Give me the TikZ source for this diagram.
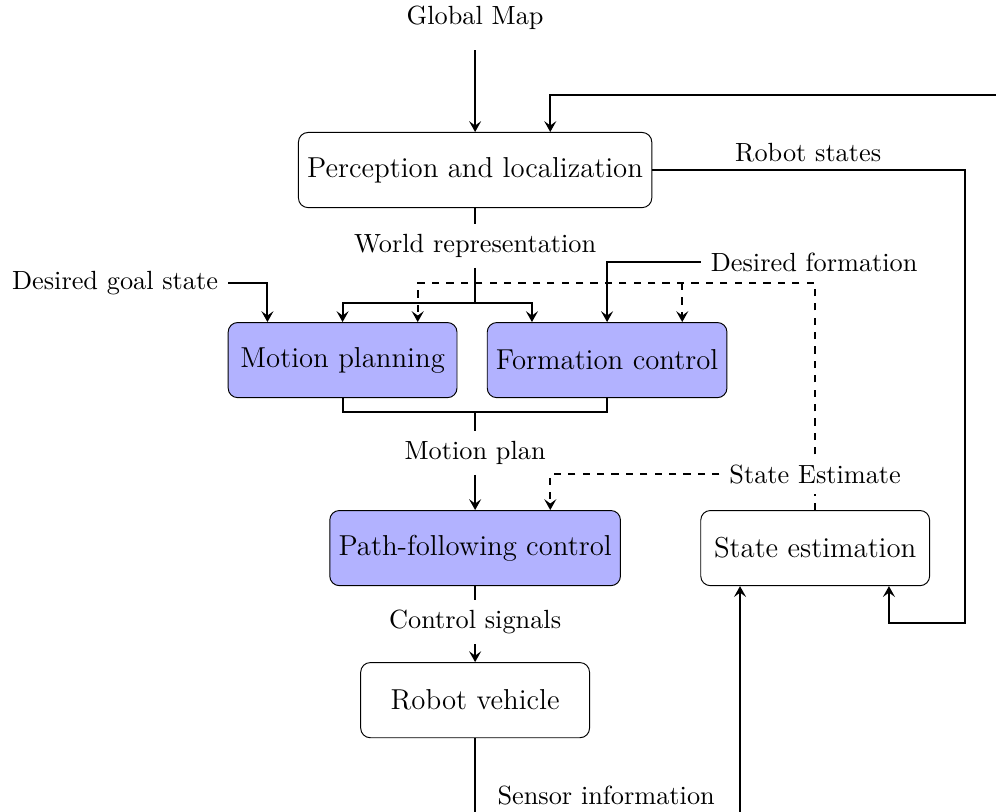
\documentclass[tikz,border=0pt,11pt]{standalone}
\usetikzlibrary{arrows.meta}
\begin{document}
\begin{tikzpicture}
[
>={Stealth[length=4.5pt, width=5pt, inset=1.8pt]},
block/.style={rectangle, draw=black, rounded corners, minimum width=3.35cm, minimum height=1.1cm, font=\large},
ctrlblock/.style={block, fill=blue!30},
lbl/.style={inner sep=4pt},
flow/.style={thick},
flowarr/.style={thick, ->},
estarr/.style={thick, dashed, ->}
]
\clip (0,0) rectangle (14.58,-11.874);
%Nodes
\node[block] at(6.955,-2.489)		(perc) {Perception and localization};
\node[ctrlblock] at(5.015,-5.271)	(mplan) {Motion planning};
\node[ctrlblock] at(8.887,-5.271)	(fctrl) {Formation control};
\node[ctrlblock] at(6.955,-8.023)	(pfc) {Path-following control};
\node[block] at(11.933,-8.023)		(sest) {State estimation};
\node[block] at(6.955,-10.249)		(rv) {Robot vehicle};
%Labels
\node[lbl]		(gm) at(6.955,-0.264) {Global Map};
\node[lbl]		(rs) at(11.83,-2.23) {Robot states};
\node[lbl]		(wr) at(6.955,-3.602) {World representation};
\node[lbl]		(dg) at(1.684,-4.143) {Desired goal state};
\node[lbl]		(df) at(11.918,-3.836) {Desired formation};
\node[lbl]		(mp) at(6.955,-6.633) {Motion plan};
\node[lbl]		(se) at(11.933,-6.94) {State Estimate};
\node[lbl]		(cs) at(6.955,-9.107) {Control signals};
\node[lbl]		(si) at(8.873,-11.64) {Sensor information};
%Corner points
\coordinate		(gmt) at(6.955,-0.732);
\coordinate		(tr) at(14.8,-1.391);
\coordinate		(rsc) at(14.13,-9.12);
\coordinate		(wj) at(6.955,-4.436);
\coordinate		(dj) at(11.933,-4.143);
\coordinate		(mj) at(6.955,-6.032);
\coordinate		(sb) at(6.955,-11.95);
%Connectors
\draw[flowarr] (gmt) -- (perc.north);
\draw[flowarr] (tr) -| ([xshift=1.1cm]perc.north);
\draw[flowarr] (perc.east) -| (rsc) -| ([xshift=1.08cm]sest.south);
\draw[flow] (perc.south) -- (wr.north);
\draw[flow] (wr.south) -- (wj);
\draw[flowarr] (wj) -| (mplan.north);
\draw[flowarr] (wj) -| ([xshift=-1.1cm]fctrl.north);
\draw[flowarr] (dg.east) -| ([xshift=-1.1cm]mplan.north);
\draw[flowarr] (df.west) -| (fctrl.north);
\draw[estarr] (se.north) -- (dj) -| ([xshift=1.1cm]mplan.north);
\draw[estarr] ([xshift=1.1cm]fctrl.north |- dj) -- ([xshift=1.1cm]fctrl.north);
\draw[thick, dashed] (sest.north) -- (se.south);
\draw[estarr] (se.west) -| ([xshift=1.1cm]pfc.north);
\draw[flow] (mplan.south) |- (mj) -| (fctrl.south);
\draw[flow] (mj) -- (mp.north);
\draw[flowarr] (mp.south) -- (pfc.north);
\draw[flow] (pfc.south) -- (cs.north);
\draw[flowarr] (cs.south) -- (rv.north);
\draw[flowarr] (rv.south) |- (sb) -| ([xshift=-1.1cm]sest.south);
\end{tikzpicture}
\end{document}
